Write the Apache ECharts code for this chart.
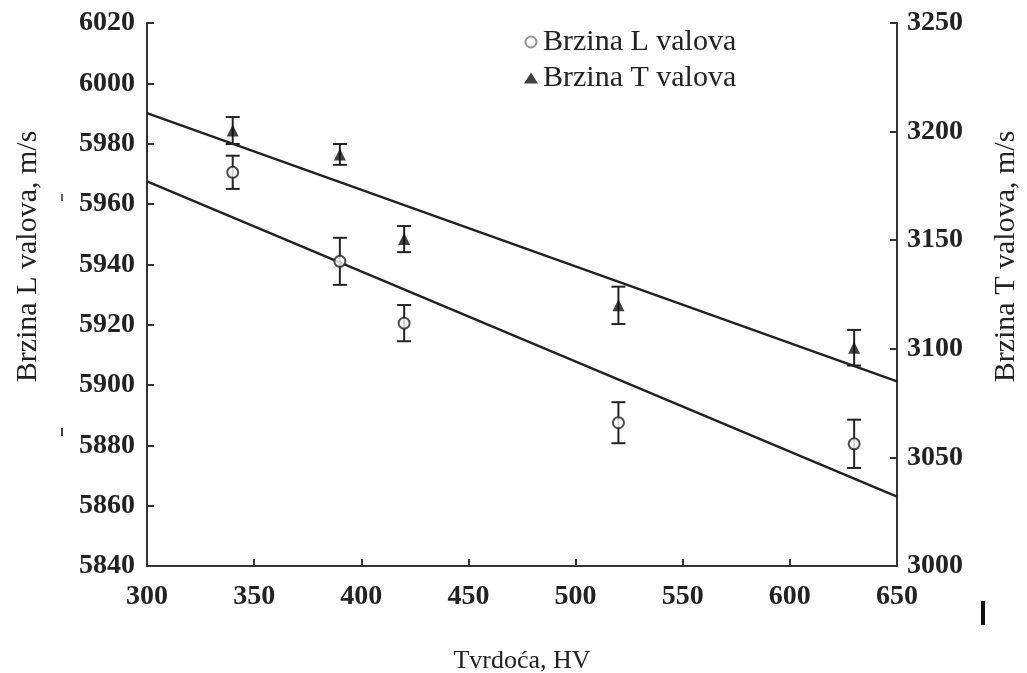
<!DOCTYPE html>
<html>
<head>
<meta charset="utf-8">
<script src="https://cdn.jsdelivr.net/npm/echarts@6/dist/echarts.min.js"></script>
<style>html,body{margin:0;padding:0;background:#fff;}#c{width:1027px;height:673px;}</style>
</head>
<body>
<div id="c"></div>
<script>
// Data
var hardness = [340, 390, 420, 520, 630];
var speedL = [5970.5, 5941, 5920.5, 5887.5, 5880.5];
var errL = [5.5, 7.8, 6, 6.8, 8];
var speedT = [3200.5, 3189.5, 3150.5, 3120, 3100.5];
var errT = [6.2, 4.8, 6, 8.6, 8.2];
var fitX = [300, 650];
var fitL = [5967.5, 5863];
var fitT = [3208.5, 3085];
var xTicks = {min: 300, max: 650, interval: 50};
var yLTicks = {min: 5840, max: 6020, interval: 20};
var yTTicks = {min: 3000, max: 3250, interval: 50};

var FONT = 'Liberation Serif';
var INK = '#222';

function pairs(xs, ys) { return xs.map(function (x, i) { return [x, ys[i]]; }); }
function errData(xs, ys, es) { return xs.map(function (x, i) { return [x, ys[i] - es[i], ys[i] + es[i]]; }); }
function plain(v) { return String(v); }

function errRender(params, api) {
  var lo = api.coord([api.value(0), api.value(1)]);
  var hi = api.coord([api.value(0), api.value(2)]);
  var w = 7;
  var st = {stroke: INK, lineWidth: 2};
  return {
    type: 'group',
    children: [
      {type: 'line', shape: {x1: lo[0], y1: lo[1], x2: hi[0], y2: hi[1]}, style: st},
      {type: 'line', shape: {x1: lo[0] - w, y1: lo[1], x2: lo[0] + w, y2: lo[1]}, style: st},
      {type: 'line', shape: {x1: hi[0] - w, y1: hi[1], x2: hi[0] + w, y2: hi[1]}, style: st}
    ]
  };
}

var axisLine = {show: true, lineStyle: {color: '#333', width: 2}};
var axisTick = {show: true, inside: true, length: 7, lineStyle: {color: '#333', width: 2}};
var labelStyle = {fontFamily: FONT, fontSize: 28, color: INK, fontWeight: 'bold', formatter: plain};

var chart = echarts.init(document.getElementById('c'), null, {renderer: 'canvas'});
chart.setOption({
  animation: false,
  backgroundColor: '#fff',
  grid: {left: 147, right: 130, top: 23, bottom: 107, containLabel: false, outerBoundsMode: 'none'},
  legend: {
    top: 22, left: 519, orient: 'vertical', itemGap: 6, itemWidth: 14, itemHeight: 11,
    textStyle: {fontFamily: FONT, fontSize: 30, color: INK},
    data: [
      {name: 'Brzina L valova', icon: 'circle', itemStyle: {color: '#fff', borderColor: '#777', borderWidth: 2}},
      {name: 'Brzina T valova', icon: 'triangle', itemStyle: {color: '#111'}}
    ]
  },
  xAxis: {
    type: 'value', min: xTicks.min, max: xTicks.max, interval: xTicks.interval,
    axisLine: axisLine, axisTick: axisTick, splitLine: {show: false},
    axisLabel: Object.assign({margin: 17}, labelStyle),
    name: 'Tvrdoća, HV', nameLocation: 'middle', nameGap: 82,
    nameTextStyle: {fontFamily: FONT, fontSize: 26, color: INK}
  },
  yAxis: [
    {
      type: 'value', min: yLTicks.min, max: yLTicks.max, interval: yLTicks.interval, position: 'left',
      axisLine: axisLine, axisTick: axisTick, splitLine: {show: false},
      axisLabel: Object.assign({margin: 12}, labelStyle),
      name: 'Brzina L valova, m/s', nameLocation: 'middle', nameGap: 104, nameRotate: 90,
      nameTextStyle: {fontFamily: FONT, fontSize: 30, color: INK, padding: [0, 0, 0, 76]}
    },
    {
      type: 'value', min: yTTicks.min, max: yTTicks.max, interval: yTTicks.interval, position: 'right',
      axisLine: axisLine, axisTick: axisTick, splitLine: {show: false},
      axisLabel: Object.assign({margin: 10}, labelStyle),
      name: 'Brzina T valova, m/s', nameLocation: 'middle', nameGap: 94, nameRotate: 90,
      nameTextStyle: {fontFamily: FONT, fontSize: 30, color: INK, padding: [0, 0, 0, 76]}
    }
  ],
  series: [
    {name: 'fitL', type: 'line', yAxisIndex: 0, data: pairs(fitX, fitL), symbol: 'none',
      lineStyle: {color: '#222', width: 2.5}, silent: true, z: 1},
    {name: 'fitT', type: 'line', yAxisIndex: 1, data: pairs(fitX, fitT), symbol: 'none',
      lineStyle: {color: '#222', width: 2.5}, silent: true, z: 1},
    {name: 'errL', type: 'custom', yAxisIndex: 0, renderItem: errRender, data: errData(hardness, speedL, errL), z: 2},
    {name: 'errT', type: 'custom', yAxisIndex: 1, renderItem: errRender, data: errData(hardness, speedT, errT), z: 2},
    {name: 'Brzina L valova', type: 'scatter', yAxisIndex: 0, data: pairs(hardness, speedL), symbol: 'circle', symbolSize: 11,
      itemStyle: {color: '#fff', borderColor: '#222', borderWidth: 2}, z: 3},
    {name: 'Brzina T valova', type: 'scatter', yAxisIndex: 1, data: pairs(hardness, speedT), symbol: 'triangle', symbolSize: 12,
      itemStyle: {color: '#111'}, z: 3}
  ],
  graphic: [
    {type: 'rect', left: 981, top: 601, shape: {width: 4, height: 24}, style: {fill: '#111'}},
    {type: 'rect', left: 61, top: 194, shape: {width: 2, height: 7}, style: {fill: '#666'}},
    {type: 'rect', left: 61, top: 428, shape: {width: 2, height: 8}, style: {fill: '#444'}}
  ]
});
</script>
</body>
</html>
